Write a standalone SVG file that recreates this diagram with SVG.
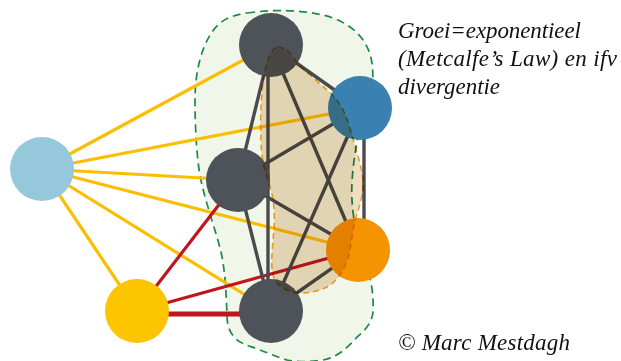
<svg xmlns="http://www.w3.org/2000/svg" width="621" height="361" viewBox="0 0 621 361">
<style>
.bg{fill:#ffffff}
.green{fill:#f1f6ea;stroke:#1e8a45;stroke-width:1.7;stroke-dasharray:8 5}
.tan{fill:#efdcc2;stroke:#f0a020;stroke-width:1.6;stroke-dasharray:6 4;mix-blend-mode:multiply}
.y{stroke:#fbbe00;stroke-width:3.2;fill:none}
.r{stroke:#c0141f;stroke-width:3.2;fill:none}
.rt{stroke:#c0141f;stroke-width:5;fill:none}
.d{stroke:#4b4b4d;stroke-width:3.4;fill:none}
.dark{fill:#4e5259}
.txt{font-family:"Liberation Serif","Times New Roman",serif;font-style:italic;font-size:23px;fill:#111111}
</style>
<rect class="bg" x="0" y="0" width="621" height="361"/>
<g id="cluster">
<path class="green" d="M247,13 C275,9 300,10 323,15 C348,21 366,36 371,58 C375,75 372,95 366,115 C360,130 357,138 356,148 C353,165 351,185 352,200 C353,220 358,245 366,265 C371,278 374,295 373,312 C372,322 366,330 357,337 C346,350 335,358 323,360 C310,362 298,362 287,360 C277,357 268,353 260,350 C250,346 241,344 236,339 C229,332 227,325 227,315 C226,290 225,270 221,252 C217,235 208,210 202,185 C197,165 195,130 195,100 C195,75 200,50 212,32 C220,20 232,15 247,13 Z"/>
</g>
<g id="connectors">
<line class="y" x1="42" y1="169" x2="271" y2="45"/>
<line class="y" x1="42" y1="169" x2="360" y2="108"/>
<line class="y" x1="42" y1="169" x2="238" y2="180"/>
<line class="y" x1="42" y1="169" x2="358" y2="250"/>
<line class="y" x1="42" y1="169" x2="271" y2="311"/>
<line class="y" x1="42" y1="169" x2="137" y2="311"/>
<line class="r" x1="137" y1="311" x2="238" y2="180"/>
<line class="r" x1="137" y1="311" x2="358" y2="250"/>
<line class="rt" x1="137" y1="314" x2="271" y2="314"/>
<line class="d" x1="271" y1="45" x2="238" y2="180"/>
<line class="d" x1="268" y1="45" x2="268" y2="311"/>
<line class="d" x1="271" y1="45" x2="358" y2="250"/>
<line class="d" x1="271" y1="45" x2="360" y2="108"/>
<line class="d" x1="360" y1="108" x2="238" y2="180"/>
<line class="d" x1="360" y1="108" x2="271" y2="311"/>
<line class="d" x1="364" y1="108" x2="364" y2="250"/>
<line class="d" x1="238" y1="180" x2="358" y2="250"/>
<line class="d" x1="238" y1="180" x2="271" y2="311"/>
<line class="d" x1="358" y1="250" x2="271" y2="311"/>
</g>
<g id="node-lightblue"><circle cx="42" cy="169" r="32" fill="#96c8dc"/></g>
<g id="node-yellow"><circle cx="137" cy="311" r="32" fill="#fdc400"/></g>
<g id="node-top"><circle class="dark" cx="271" cy="45" r="32"/></g>
<g id="node-blue"><circle cx="360" cy="108" r="32" fill="#3a80b1"/></g>
<g id="node-middle"><circle class="dark" cx="238" cy="180" r="32"/></g>
<g id="node-orange"><circle cx="358" cy="250" r="32" fill="#f39400"/></g>
<g id="node-bottom"><circle class="dark" cx="271" cy="311" r="32"/></g>
<g id="core">
<path class="tan" d="M278,47 C286,47 292,55 297,63 C306,72 318,82 327,90 C336,98 340,104 343,110 C348,120 351,132 354,143 C358,156 362,168 363,180 C364,192 360,205 356,217 C352,232 351,245 349,255 C346,266 340,276 333,283 C325,289 315,293 300,293 C290,293 280,288 275,280 C270,272 272,255 273,240 C275,222 275,205 271,190 C266,175 261,160 261,140 C260,120 261,95 264,75 C267,60 272,47 278,47 Z"/>
</g>
<g id="caption">
<text class="txt" x="398" y="38" textLength="183">Groei=exponentieel</text>
<text class="txt" x="398" y="66" textLength="219">(Metcalfe’s Law) en ifv</text>
<text class="txt" x="398" y="94" textLength="102">divergentie</text>
<text class="txt" x="398" y="350" textLength="172">© Marc Mestdagh</text>
</g>
</svg>
